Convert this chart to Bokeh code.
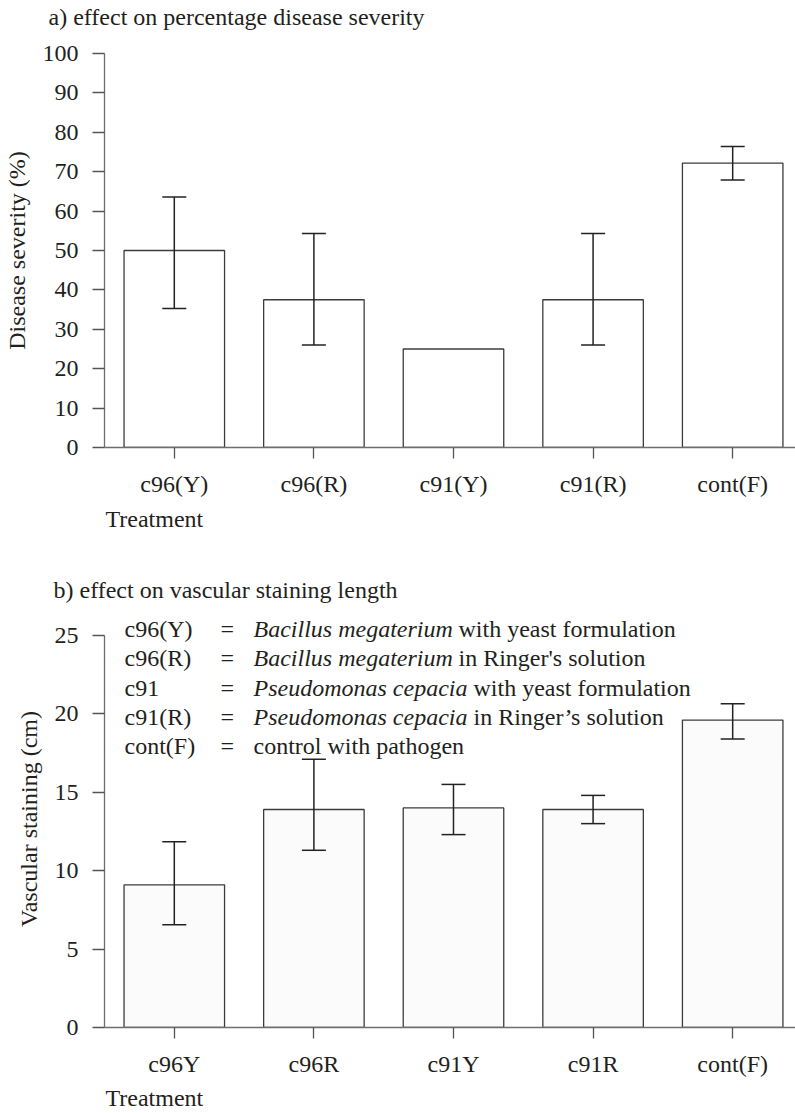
from bokeh.plotting import figure
from bokeh.models import (Range1d, FixedTicker, Label, Whisker, TeeHead,
                          ColumnDataSource, Title)
from bokeh.layouts import column
from bokeh.embed import file_html
from bokeh.resources import INLINE

# ---------------- data ----------------
treatments_a = ["c96(Y)", "c96(R)", "c91(Y)", "c91(R)", "cont(F)"]
severity = [50.0, 37.5, 25.0, 37.5, 72.2]
severity_low = [35.3, 26.0, None, 26.0, 67.9]
severity_high = [63.6, 54.3, None, 54.3, 76.4]
severity_ticks = [0, 10, 20, 30, 40, 50, 60, 70, 80, 90, 100]

treatments_b = ["c96Y", "c96R", "c91Y", "c91R", "cont(F)"]
staining = [9.1, 13.9, 14.0, 13.9, 19.6]
staining_low = [6.55, 11.3, 12.3, 13.0, 18.4]
staining_high = [11.85, 17.1, 15.5, 14.8, 20.65]
staining_ticks = [0, 5, 10, 15, 20, 25]

legend_codes = ["c96(Y)", "c96(R)", "c91", "c91(R)", "cont(F)"]
legend_species = ["Bacillus megaterium", "Bacillus megaterium",
                  "Pseudomonas cepacia", "Pseudomonas cepacia", ""]
legend_rest = ["with yeast formulation", "in Ringer's solution",
               "with yeast formulation", "in Ringer\u2019s solution",
               "control with pathogen"]

# ---------------- style ----------------
FONT = "Liberation Serif"
FS = "24px"
TXT = "#231f20"
W = 795


def add_title(p, text, place, offset, standoff, size=FS):
    t = Title(text=text, align="left", offset=offset, standoff=standoff,
              text_font=FONT, text_font_size=size, text_color=TXT,
              text_font_style="normal")
    p.add_layout(t, place)


def make_panel(cats, vals, lo, hi, yend, ybound, yticks, ylabel, fill, height,
               border_top, border_bottom):
    p = figure(width=W, height=height, x_range=Range1d(-0.5, 4.45),
               y_range=Range1d(0, yend), output_backend="svg",
               toolbar_location=None, min_border_left=100, min_border_right=0,
               min_border_top=border_top, min_border_bottom=border_bottom)
    p.outline_line_color = None
    p.grid.visible = False
    p.background_fill_color = "white"
    p.border_fill_color = "white"

    xs = list(range(len(cats)))
    p.vbar(x=xs, top=vals, bottom=0, width=0.72, fill_color=fill,
           line_color="#3c3c3c", line_width=1.3)

    idx = [i for i in xs if lo[i] is not None]
    src = ColumnDataSource(dict(base=idx, lower=[lo[i] for i in idx],
                                upper=[hi[i] for i in idx]))
    wk = Whisker(source=src, base="base", lower="lower", upper="upper",
                 dimension="height", line_color="#222222", line_width=1.5,
                 upper_head=TeeHead(size=24, line_color="#222222", line_width=1.5),
                 lower_head=TeeHead(size=24, line_color="#222222", line_width=1.5),
                 level="overlay")
    p.add_layout(wk)

    xa = p.xaxis[0]
    xa.ticker = FixedTicker(ticks=xs)
    xa.major_label_overrides = {i: c for i, c in enumerate(cats)}
    ya = p.yaxis[0]
    ya.ticker = FixedTicker(ticks=yticks)
    ya.bounds = (0, ybound)
    ya.axis_label = ylabel
    ya.axis_label_text_font = FONT
    ya.axis_label_text_font_size = FS
    ya.axis_label_text_font_style = "normal"
    ya.axis_label_text_color = TXT
    ya.axis_label_standoff = 10
    for ax in (xa, ya):
        ax.axis_line_color = "#6e6e6e"
        ax.axis_line_width = 1.3
        ax.major_tick_line_color = "#555555"
        ax.major_tick_line_width = 1.3
        ax.major_tick_in = 0
        ax.minor_tick_line_color = None
        ax.major_label_text_font = FONT
        ax.major_label_text_font_size = FS
        ax.major_label_text_color = TXT
    ya.major_tick_out = 12
    ya.major_label_standoff = 14
    xa.major_tick_out = 11
    xa.major_label_standoff = 12
    return p


# top panel (page y 0 .. 560), frame 53 .. 447
p1 = make_panel(treatments_a, severity, severity_low, severity_high, 100, 100,
                severity_ticks, "Disease severity (%)", "white", 560, 53, 113)
add_title(p1, " ", "above", 0, 21, size="1px")          # spacer next to the frame
add_title(p1, "a) effect on percentage disease severity", "above", -56, 0)
add_title(p1, "Treatment", "below", 1, 8)

# bottom panel (page y 560 .. 1113), frame 610 .. 1029 (y 0 .. 26.59)
p2 = make_panel(treatments_b, staining, staining_low, staining_high, 26.59, 25,
                staining_ticks, "Vascular staining (cm)", "#fbfbfb", 553, 50, 84)
add_title(p2, "b) effect on vascular staining length", "above", -51, 16)
add_title(p2, "Treatment", "below", 1, 6)

row_y = [68, 97.5, 127, 156, 185]
rest_x = [458, 458, 473, 473, 253]
for k in range(len(legend_codes)):
    for txt, x, style in ((legend_codes[k], 124, "normal"),
                          ("=", 220, "normal"),
                          (legend_species[k], 253, "italic"),
                          (legend_rest[k], rest_x[k], "normal")):
        if not txt:
            continue
        p2.add_layout(Label(x=x, y=row_y[k], x_units="canvas",
                            y_units="canvas", text=txt, text_color=TXT,
                            text_font=FONT, text_font_size=FS,
                            text_font_style=style, text_baseline="middle",
                            text_align="left"))

layout = column(p1, p2, spacing=0)
open("out.html", "w").write(file_html(layout, INLINE))
